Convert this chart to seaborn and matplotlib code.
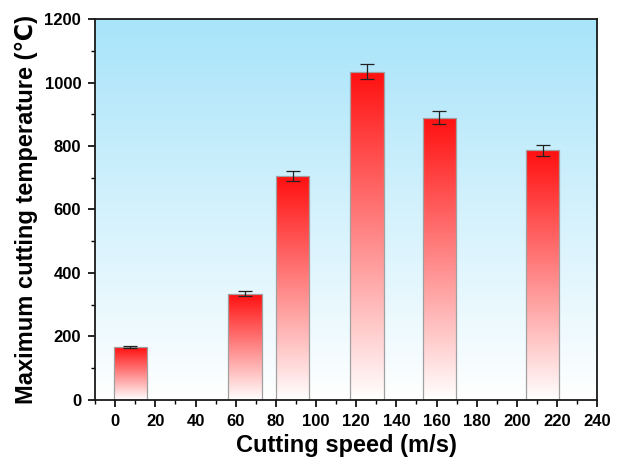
import numpy as np
import pandas as pd
import matplotlib
matplotlib.use("Agg")
import matplotlib.pyplot as plt
from matplotlib.colors import LinearSegmentedColormap
from matplotlib.ticker import MultipleLocator
import seaborn as sns

# Measured maximum cutting temperatures at each cutting speed
speeds = [7.5, 64.6, 88.3, 125.3, 161.3, 212.8]
temps = [167, 334, 705, 1034, 889, 787]
errors = [4, 8, 16, 23, 20, 17]
x_ticks = list(range(0, 241, 20))
y_ticks = list(range(0, 1201, 200))

sns.set_theme(style="white")
plt.rcParams["font.family"] = ["Liberation Sans", "DejaVu Sans"]
plt.rcParams["font.weight"] = "bold"
plt.rcParams["text.color"] = "black"
plt.rcParams["axes.labelcolor"] = "black"
plt.rcParams["xtick.color"] = "black"
plt.rcParams["ytick.color"] = "black"

fig = plt.figure(figsize=(6.3, 4.65), dpi=100)
ax = fig.add_axes([0.151, 0.140, 0.797, 0.819])

df = pd.DataFrame({"speed": speeds, "temp": temps})
sns.barplot(data=df, x="speed", y="temp", native_scale=True, width=0.70,
            color="red", edgecolor="#a0a0a0", linewidth=0.9, ax=ax, zorder=2)

xlim = (-10, 240)
ylim = (0, 1200)

# Background: light blue fading to white
bg_cmap = LinearSegmentedColormap.from_list("bg", ["#ffffff", "#a8e4fa"])
grad = np.linspace(0, 1, 256).reshape(-1, 1)
ax.imshow(grad, cmap=bg_cmap, origin="lower", aspect="auto",
          extent=[0, 1, 0, 1], transform=ax.transAxes, zorder=0)

# Bars: red at the top fading to white at the base
bar_cmap = LinearSegmentedColormap.from_list("bar", ["#ffffff", "#ff1010"])
for p in ax.patches:
    x0, y0 = p.get_x(), p.get_y()
    w, h = p.get_width(), p.get_height()
    p.set_facecolor("none")
    im = ax.imshow(grad, cmap=bar_cmap, origin="lower", aspect="auto",
                   extent=[x0, x0 + w, y0, y0 + h], zorder=1.5)
    im.set_clip_path(p)

ax.errorbar(speeds, temps, yerr=errors, fmt="none", ecolor="#222222",
            elinewidth=0.9, capsize=5, capthick=0.9, zorder=3)

ax.set_xlim(*xlim)
ax.set_ylim(*ylim)
ax.set_xticks(x_ticks)
ax.set_yticks(y_ticks)
ax.xaxis.set_minor_locator(MultipleLocator(10))
ax.yaxis.set_minor_locator(MultipleLocator(100))
ax.tick_params(axis="both", which="major", direction="out", length=5, width=1.2,
               color="black", labelcolor="black", labelsize=12, pad=5,
               bottom=True, left=True)
ax.tick_params(axis="both", which="minor", direction="out", length=3, width=1.0,
               color="black", bottom=True, left=True)
for lab in ax.get_xticklabels() + ax.get_yticklabels():
    lab.set_fontweight("bold")

for s in ax.spines.values():
    s.set_visible(True)
    s.set_color("#1a1a1a")
    s.set_linewidth(1.3)

ax.set_xlabel("Cutting speed (m/s)", fontsize=17, fontweight="bold",
              color="black", labelpad=4)
ax.set_ylabel("Maximum cutting temperature (℃)", fontsize=17, fontweight="bold",
              color="black", labelpad=5)

fig.savefig("out.png", dpi=100)
